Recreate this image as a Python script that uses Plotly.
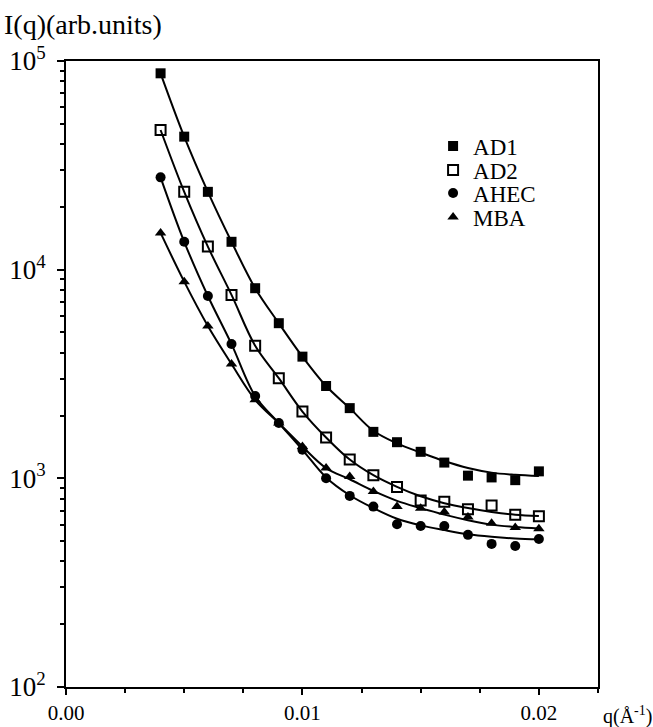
import plotly.graph_objects as go

q = [0.004, 0.005, 0.006, 0.007, 0.008, 0.009, 0.010, 0.011, 0.012,
     0.013, 0.014, 0.015, 0.016, 0.017, 0.018, 0.019, 0.020]

ad1 = [87300, 43400, 23600, 13600, 8150, 5540, 3830, 2770, 2170,
       1670, 1490, 1340, 1190, 1030, 1010, 980, 1080]
ad2 = [46700, 23600, 12900, 7570, 4320, 3020, 2090, 1570, 1230,
       1035, 910, 782, 773, 710, 742, 670, 659]
ahec = [27700, 13600, 7480, 4400, 2480, 1840, 1370, 1000, 824,
        732, 603, 591, 591, 536, 485, 474, 512]
mba = [15000, 8760, 5370, 3530, 2380, 1840, 1420, 1120, 1020,
       864, 732, 719, 690, 653, 609, 582, 574]

# fitted curves
ad1_fit = [87300, 43400, 23600, 13600, 8150, 5540, 3830, 2770, 2170,
           1690, 1470, 1330, 1210, 1120, 1065, 1040, 1025]
ad2_fit = [46700, 23600, 12900, 7570, 4320, 3020, 2090, 1570, 1230,
           1035, 910, 820, 760, 720, 690, 670, 660]
ahec_fit = [27700, 13600, 7480, 4400, 2480, 1840, 1370, 1010, 830,
            720, 640, 595, 565, 540, 525, 515, 510]
mba_fit = [15000, 8760, 5370, 3530, 2380, 1840, 1420, 1120, 990,
           870, 780, 720, 670, 630, 600, 585, 575]

names = ["AD1", "AD2", "AHEC", "MBA"]
symbols = ["square", "square-open", "circle", "triangle-up"]
series = [ad1, ad2, ahec, mba]
fits = [ad1_fit, ad2_fit, ahec_fit, mba_fit]

x_ticks = [0.0, 0.01, 0.02]
x_ticktext = ["0.00", "0.01", "0.02"]
x_minor = [0.0025, 0.005, 0.0075, 0.0125, 0.015, 0.0175, 0.0225]
y_ticks = [1e2, 1e3, 1e4, 1e5]
y_ticktext = ["10<sup>2</sup>", "10<sup>3</sup>", "10<sup>4</sup>", "10<sup>5</sup>"]
y_minor = [m * 10 ** e for e in (2, 3, 4) for m in range(2, 10)]

FONT = "Liberation Serif, Times New Roman, serif"

fig = go.Figure()
for f in fits:
    fig.add_trace(go.Scatter(x=q, y=f, mode="lines", line=dict(color="black", width=2, shape="spline"),
                             showlegend=False, hoverinfo="skip"))

legend_ids = ["legend", "legend2", "legend3", "legend4"]
for name, sym, s, lg in zip(names, symbols, series, legend_ids):
    fig.add_trace(go.Scatter(x=q, y=s, mode="markers", name=name, legend=lg,
                             marker=dict(symbol=sym, size=10, color="black",
                                         line=dict(color="black", width=2 if sym == "square-open" else 0))))

legend_rows_y = [0.8642, 0.8259, 0.7891, 0.7508]
legend_common = dict(x=0.69, xanchor="left", yanchor="middle", bgcolor="rgba(0,0,0,0)",
                     font=dict(family=FONT, size=23, color="black"))

fig.update_layout(
    width=653, height=727,
    margin=dict(l=66, r=55, t=61, b=40, autoexpand=False),
    paper_bgcolor="white", plot_bgcolor="white",
    font=dict(family=FONT, size=26, color="black"),
    legend=dict(y=legend_rows_y[0], **legend_common),
    legend2=dict(y=legend_rows_y[1], **legend_common),
    legend3=dict(y=legend_rows_y[2], **legend_common),
    legend4=dict(y=legend_rows_y[3], **legend_common),
    xaxis=dict(range=[0, 0.0225], showgrid=False, zeroline=False, showline=True,
               linecolor="black", linewidth=2, mirror=True, automargin=False,
               tickvals=x_ticks, ticktext=x_ticktext, ticks="outside", ticklen=6,
               tickwidth=2, tickcolor="black", ticklabelstandoff=0,
               tickfont=dict(family=FONT, size=21),
               minor=dict(tickvals=x_minor, ticks="outside", ticklen=4, tickwidth=2, tickcolor="black", showgrid=False)),
    yaxis=dict(type="log", range=[2, 5], showgrid=False, zeroline=False, showline=True,
               linecolor="black", linewidth=2, mirror=True, automargin=False,
               tickvals=y_ticks, ticktext=y_ticktext, ticks="outside", ticklen=7,
               tickwidth=2, tickcolor="black", ticklabelstandoff=6,
               tickfont=dict(family=FONT, size=27),
               minor=dict(tickvals=y_minor, ticks="outside", ticklen=4, tickwidth=2, tickcolor="black", showgrid=False)),
    annotations=[
        dict(text="I(q)(arb.units)", xref="paper", yref="paper", x=-0.12, y=1.058,
             xanchor="left", yanchor="middle", showarrow=False, font=dict(family=FONT, size=28)),
        dict(text="q(Å<sup>-1</sup>)", xref="paper", yref="paper", x=1.005, y=-0.046,
             xanchor="left", yanchor="middle", showarrow=False, font=dict(family=FONT, size=20)),
    ],
)

fig.write_html("out.html")
